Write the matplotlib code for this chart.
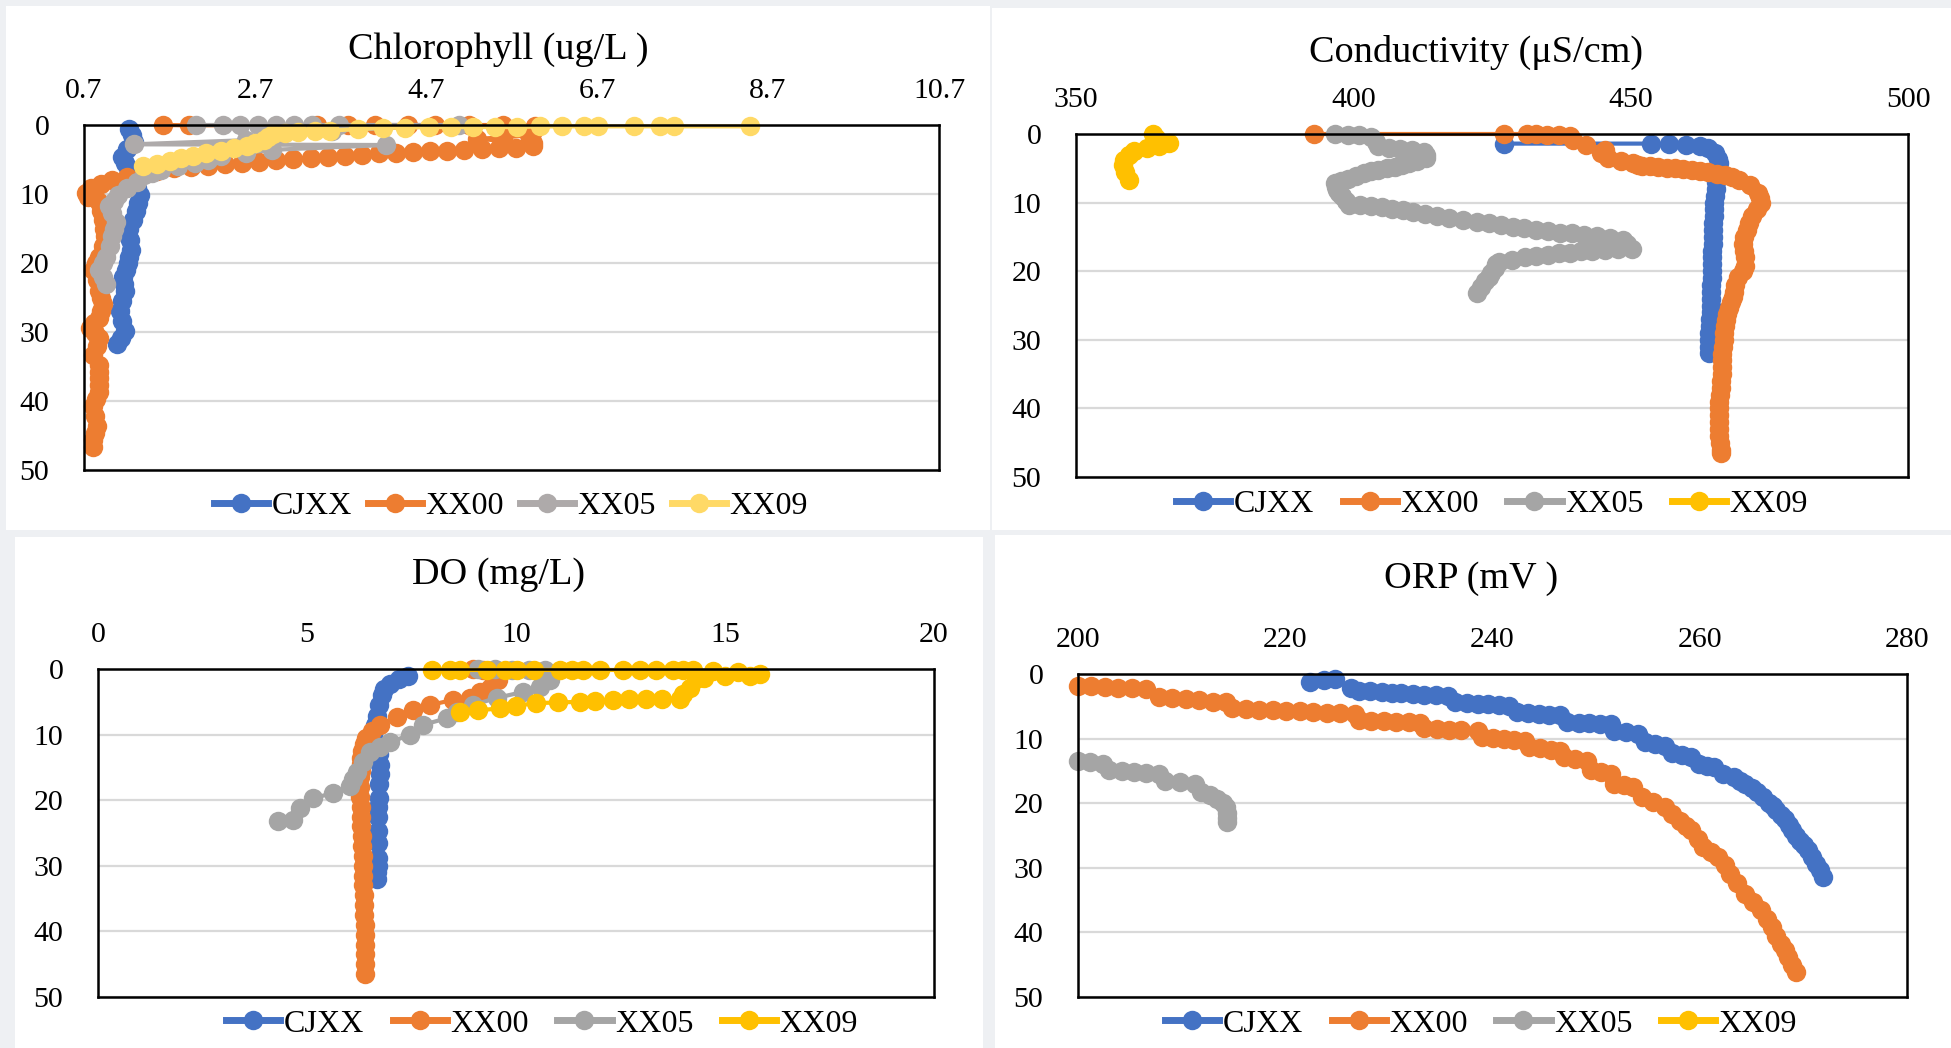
import matplotlib
matplotlib.use('Agg')
import matplotlib.pyplot as plt
from matplotlib.patches import Rectangle
from matplotlib.lines import Line2D

plt.rcParams['font.family'] = ['Liberation Serif', 'DejaVu Serif']

W, H = 1951, 1048
names = ['CJXX', 'XX00', 'XX05', 'XX09']
depth_ticks = [0, 10, 20, 30, 40, 50]

# Chlorophyll (ug/L)
chl_cjxx_d = [0.6, 1.4, 2.4, 3.5, 4.6, 5.5, 6.3, 7.3, 8.3, 9.2, 10.2, 11.3, 12.4, 13.7, 15.1, 16.6, 18.1, 19.1,
              20.0, 21.0, 22.0, 23.0, 24.0, 25.5, 26.9, 28.4, 29.9, 30.9, 31.8]
chl_cjxx_v = [1.23, 1.26, 1.28, 1.2, 1.15, 1.18, 1.21, 1.25, 1.28, 1.32, 1.36, 1.33, 1.31, 1.27, 1.23, 1.24, 1.25, 1.23,
              1.21, 1.19, 1.16, 1.17, 1.18, 1.15, 1.12, 1.15, 1.18, 1.13, 1.09]
chl_xx00_d = [0, 0.05, 0, 0, 0, 0, 0, 0, 0, 0.1,
              0.8, 1.5, 1.8, 2.0, 2.3, 2.6, 3.1, 3.3, 3.4, 3.5,
              3.6, 3.7, 3.8, 3.9, 4.0, 4.1, 4.3, 4.5, 4.6, 4.8,
              4.9, 5.1, 5.3, 5.5, 5.7, 5.9, 6.1, 6.3, 6.6, 7.0,
              7.6, 8.0, 8.5, 9.2, 9.8, 10.4, 11.2, 12.5, 13.7, 15.0,
              16.1, 17.6, 19.1, 20.0, 21.0, 22.5, 24.0, 25.0, 26.0, 27.0,
              27.9, 28.7, 29.4, 30.1, 30.8, 32.0, 33.3, 34.8, 35.8, 36.7,
              37.7, 38.7, 39.7, 40.7, 42.2, 43.6, 44.6, 45.6, 46.6]
chl_xx00_v = [1.62, 1.93, 3.42, 3.79, 4.1, 4.49, 4.8, 5.2, 5.6, 5.98,
              5.95, 5.9, 5.6, 5.3, 5.6, 5.95, 5.95, 5.75, 5.55, 5.35,
              5.15, 4.95, 4.75, 4.55, 4.35, 4.15, 3.95, 3.75, 3.55, 3.35,
              3.15, 2.95, 2.75, 2.55, 2.35, 2.15, 1.95, 1.75, 1.55, 1.4,
              1.2, 1.03, 0.9, 0.78, 0.72, 0.75, 0.88, 0.9, 0.92, 0.93,
              0.94, 0.92, 0.88, 0.84, 0.81, 0.85, 0.88, 0.9, 0.92, 0.9,
              0.88, 0.82, 0.77, 0.83, 0.88, 0.85, 0.81, 0.87, 0.88, 0.88,
              0.87, 0.87, 0.84, 0.81, 0.83, 0.85, 0.83, 0.8, 0.8]
chl_xx05_d = [0, 0, 0, 0, 0, 0, 0, 0, 0,
              0.8, 1.5, 2.2, 2.8, 2.9, 3.6, 4.0, 4.5, 5.0, 5.5, 6.0, 6.5, 6.9, 7.3,
              8.3, 9.2, 10.2, 11.0, 11.7, 12.8, 14.1, 15.0, 16.1, 17.5,
              19.1, 20.0, 21.0, 22.0, 23.0]
chl_xx05_v = [2.01, 2.32, 2.53, 2.74, 2.95, 3.16, 3.37, 3.68, 5.09,
              3.6, 3.0, 2.6, 1.28, 4.23, 2.9, 2.6, 2.3, 2.15, 2.0, 1.8, 1.6, 1.5, 1.4,
              1.32, 1.2, 1.1, 1.05, 0.99, 1.03, 1.07, 1.05, 1.03, 1.0,
              0.96, 0.92, 0.88, 0.92, 0.96]
chl_xx09_d = [0.2, 0.2, 0.2, 0.2, 0.2, 0.2, 0.2, 0.2, 0.3, 0.3,
              0.3, 0.3, 0.3, 0.4, 0.4, 0.6, 0.8, 0.9, 1.0, 1.15,
              1.3, 1.75, 2.2, 2.6, 3.0, 3.35, 3.7, 4.1, 4.5, 4.85,
              5.2, 5.6, 6.0]
chl_xx09_v = [8.49, 7.6, 7.44, 7.13, 6.71, 6.55, 6.29, 6.03, 5.77, 5.51,
              5.25, 4.99, 4.73, 4.46, 4.2, 3.9, 3.58, 3.4, 3.2, 3.05,
              2.91, 2.85, 2.8, 2.7, 2.61, 2.45, 2.3, 2.13, 1.97, 1.83,
              1.7, 1.55, 1.39]

# Conductivity (uS/cm)
cond_cjxx_d = [1.4, 1.4, 1.5, 1.6, 1.8, 2.0, 2.8, 3.6, 4.3, 5.0,
               6, 7, 8, 9, 10, 11, 12, 13, 14, 15,
               16, 17, 18, 19, 20, 21, 22, 23, 24, 25,
               26, 27, 28, 29, 30, 31, 31.9]
cond_cjxx_v = [427.1, 453.7, 457.0, 460.0, 462.5, 464.0, 465.2, 465.7, 465.9, 465.8,
               465.6, 465.4, 465.3, 465.2, 465.1, 465.0, 465.0, 464.9, 464.9, 464.8,
               464.8, 464.7, 464.7, 464.6, 464.6, 464.6, 464.5, 464.5, 464.5, 464.4,
               464.4, 464.3, 464.3, 464.2, 464.2, 464.1, 464.1]
cond_xx00_d = [0, 0, 0, 0, 0.1, 0.2, 0.3, 0.9, 1.6, 2.3,
               2.8, 3.5, 4.0, 4.3, 4.45, 4.6, 4.7, 4.8, 4.9, 5.0,
               5.15, 5.3, 5.45, 5.6, 5.8, 6.0, 6.3, 6.7,
               7.5, 8.6, 9.4, 10.1, 11.0, 12.0, 13.0, 14.0, 15.0, 16.0,
               17.0, 18.0, 19.3, 20.0, 20.8, 22.0, 23.0, 23.7, 24.5, 25.4,
               26.3, 27.1, 28.0, 29.0, 30.0, 31.0, 32.0, 33.0, 34.0, 35.0,
               36.0, 37.0, 38.0, 39.0, 40.0, 41.0, 42.0, 43.0, 44.0, 45.0,
               46.0, 46.5]
cond_xx00_v = [392.9, 427.1, 431.3, 433.0, 435.0, 437.0, 439.0, 439.6, 442.0, 445.4,
               444.7, 446.0, 448.3, 450.5, 451.3, 452.0, 453.5, 455.0, 456.5, 458.0,
               459.5, 461.0, 462.5, 464.0, 465.5, 467.0, 468.3, 469.5,
               471.5, 472.9, 473.3, 473.5, 472.8, 471.9, 471.4, 471.0, 470.4, 470.3,
               470.5, 470.6, 470.7, 470.2, 469.4, 468.9, 468.6, 468.4, 468.0, 467.7,
               467.4, 467.1, 467.0, 466.9, 466.8, 466.6, 466.5, 466.5, 466.4, 466.4,
               466.3, 466.2, 466.1, 466.0, 466.0, 465.9, 465.9, 465.9, 466.0, 466.1,
               466.2, 466.2]
cond_xx05_d = [0.0, 0.1, 0.2, 0.5, 1.2, 1.8, 2.0, 2.2, 2.4, 2.6,
               3.1, 3.5, 3.9, 4.2, 4.5, 4.8, 5.0, 5.2, 5.4, 5.7,
               6.1, 6.5, 6.9, 7.2, 7.7, 8.2, 8.6, 9.1, 9.7, 10.3,
               10.4, 10.5, 10.7, 10.9, 11.1, 11.3, 11.6, 11.9, 12.3, 12.5,
               12.8, 13.0, 13.3, 13.5, 13.7, 14.0, 14.2, 14.4, 14.5, 14.7,
               14.9, 15.2, 15.4, 16.0, 16.7, 16.8, 16.9, 17.0, 17.1, 17.3,
               17.4, 17.6, 17.8, 18.0, 18.3, 18.6, 19.0, 19.5, 20.3, 20.9,
               21.5, 22.3, 23.2]
cond_xx05_v = [396.7, 399.0, 401.0, 403.1, 404.0, 404.4, 406.5, 408.5, 410.6, 412.7,
               413.1, 413.1, 411.5, 410.0, 408.8, 407.6, 406.0, 404.5, 403.2, 401.9,
               400.4, 399.0, 397.8, 396.7, 396.8, 397.0, 397.5, 398.0, 398.6, 399.3,
               401.2, 403.1, 405.1, 407.0, 408.9, 410.8, 412.9, 415.0, 417.2, 419.7,
               422.3, 424.4, 426.6, 428.7, 430.8, 433.0, 435.1, 437.2, 439.4, 441.5,
               443.9, 446.2, 448.6, 449.4, 450.2, 447.8, 445.4, 443.0, 441.0, 439.0,
               437.1, 435.1, 433.0, 431.0, 428.6, 426.2, 425.8, 425.5, 424.9, 424.4,
               423.8, 423.1, 422.3]
cond_xx09_d = [0.0, 0.6, 1.3, 1.8, 2.0, 2.5, 3.0, 3.8, 4.5, 5.6, 6.7]
cond_xx09_v = [363.9, 364.5, 366.7, 365.0, 362.8, 360.5, 359.5, 358.6, 358.4, 358.8, 359.5]

# DO (mg/L)
do_cjxx_d = [1.0, 1.6, 2.3, 3.1, 4.0, 5.5, 7.1, 8.6, 10.1, 11.5,
             13.0, 14.6, 16.0, 17.5, 19.7, 21.0, 22.5, 24.7, 26.5, 28.8,
             30.0, 31.0, 32.0]
do_cjxx_v = [7.42, 7.2, 6.99, 6.85, 6.79, 6.72, 6.67, 6.62, 6.59, 6.65,
             6.72, 6.75, 6.74, 6.73, 6.72, 6.71, 6.71, 6.71, 6.71, 6.7,
             6.69, 6.68, 6.67]
do_xx00_d = [0.0, 0.2, 1.0, 1.7, 2.9, 3.5, 4.4, 4.7, 5.5, 6.3,
             7.3, 8.5, 9.5, 10.5, 11.5, 12.5, 13.5, 14.5, 15.5, 16.5,
             18.0, 19.5, 21.0, 22.5, 24.0, 25.5, 27.0, 28.5, 30.0, 31.5,
             33.0, 34.5, 36.0, 37.5, 39.0, 40.5, 42.0, 43.5, 45.0, 46.5]
do_xx00_v = [8.97, 9.2, 9.45, 9.57, 9.38, 9.14, 8.9, 8.5, 7.94, 7.54,
             7.15, 6.75, 6.55, 6.42, 6.36, 6.32, 6.3, 6.29, 6.28, 6.27,
             6.27, 6.27, 6.28, 6.29, 6.3, 6.31, 6.32, 6.33, 6.33, 6.34,
             6.35, 6.36, 6.37, 6.37, 6.38, 6.38, 6.39, 6.39, 6.39, 6.39]
do_xx05_d = [0.0, 0.0, 0.1, 0.1, 0.2, 1.7, 2.7, 3.5, 4.4, 5.5,
             6.5, 7.5, 8.5, 10.0, 11.2, 11.9, 12.6, 14.2, 15.7, 16.8,
             17.9, 18.9, 19.7, 21.2, 23.0, 23.1]
do_xx05_v = [9.1, 9.5, 9.9, 10.3, 10.7, 10.81, 10.57, 10.17, 9.54, 8.97,
             8.6, 8.35, 7.78, 7.46, 6.99, 6.75, 6.51, 6.35, 6.19, 6.1,
             6.03, 5.63, 5.15, 4.83, 4.67, 4.31]
do_xx09_d = [0.15] * 16 + [0.2, 0.3, 0.5, 0.8, 1.0, 1.1, 1.3, 1.6, 2.95, 3.8,
                           4.5, 4.5, 4.5, 4.6, 4.7, 4.85, 5.0, 5.1, 5.2, 5.6,
                           6.0, 6.3, 6.5]
do_xx09_v = [7.98, 8.42, 8.66, 9.3, 9.74, 10.02, 10.42, 11.05, 11.33, 11.61, 12.01, 12.57, 12.97, 13.36, 13.76, 14.0,
             14.24, 14.72, 15.3, 15.84, 15.6, 15.0, 14.5, 14.3, 14.16, 14.0,
             13.92, 13.5, 13.12, 12.7, 12.33, 11.9, 11.53, 11.0, 10.49, 10.0,
             9.62, 9.1, 8.66]

# ORP (mV)
orp_cjxx_v = [222.4, 223.7, 224.8, 226.3, 227.1, 228.2, 229.3, 230.3, 231.2, 232.3, 233.4, 234.5, 235.7,
              236.4, 237.5, 238.6, 239.6, 240.6, 241.6, 242.4, 243.4, 244.5, 245.5, 246.5, 247.2, 248.3,
              249.3, 250.4, 251.4, 251.7, 252.9, 254.0, 254.7, 255.7, 256.6, 257.3, 258.3, 259.2, 259.9,
              260.7, 261.4, 262.2, 263.3, 263.9, 264.4, 265.0, 265.5, 266.1, 266.7, 267.1, 267.4, 267.8,
              268.2, 268.6, 268.9, 269.3, 269.7, 270.1, 270.4, 270.8, 271.2, 271.6, 271.9]
orp_cjxx_d = [1.3, 1.0, 0.8, 2.1, 2.6, 2.7, 2.8, 2.9, 3.0, 3.1, 3.2, 3.3, 3.35,
              4.4, 4.5, 4.6, 4.7, 4.8, 4.9, 5.9, 6.0, 6.2, 6.3, 6.4, 7.5, 7.55,
              7.6, 7.7, 7.7, 8.8, 9.0, 9.3, 10.6, 10.8, 11.1, 12.3, 12.6, 12.9, 13.9,
              14.2, 14.4, 15.5, 16.0, 16.5, 17.0, 17.7, 18.3, 19.1, 19.9, 20.5, 21.1, 21.8,
              22.4, 23.3, 24.2, 25.0, 25.8, 26.5, 27.3, 28.3, 29.4, 30.4, 31.4]
orp_xx00_v = [200.0, 201.3, 202.6, 203.9, 205.2, 206.6, 207.8, 209.1, 210.4, 211.7, 213.0, 214.3,
              214.9, 216.2, 217.5, 218.8, 220.1, 221.4, 222.7, 224.0, 225.3, 226.7, 227.1, 228.3,
              229.5, 230.7, 231.9, 233.0, 233.4, 234.6, 235.8, 237.0, 238.6, 239.0, 240.0, 241.1,
              242.1, 243.1, 243.5, 244.6, 245.6, 246.5, 246.9, 248.0, 249.1, 249.5, 250.5, 251.4,
              251.7, 252.7, 253.6, 254.4, 255.5, 256.6, 257.3, 258.1, 258.7, 259.2, 259.8, 260.3,
              261.1, 261.8, 262.4, 262.9, 263.6, 264.4, 265.1, 265.9, 266.5, 267.0, 267.4, 267.8,
              268.2, 268.5, 268.9, 269.3]
orp_xx00_d = [1.8, 1.9, 2.0, 2.1, 2.2, 2.3, 3.5, 3.7, 3.9, 4.1, 4.3, 4.4,
              5.3, 5.4, 5.5, 5.6, 5.7, 5.8, 5.9, 6.0, 6.1, 6.2, 7.1, 7.2,
              7.3, 7.4, 7.5, 7.6, 8.4, 8.5, 8.6, 8.7, 8.8, 9.8, 9.9, 10.1,
              10.2, 10.3, 11.3, 11.5, 11.7, 11.9, 12.9, 13.1, 13.4, 14.9, 15.2, 15.5,
              17.0, 17.2, 17.5, 19.1, 19.8, 20.6, 21.6, 22.7, 23.5, 24.2, 25.5, 26.8,
              27.6, 28.4, 29.6, 30.9, 32.4, 34.0, 35.3, 36.6, 37.9, 39.2, 40.5, 41.8,
              42.8, 43.8, 45.0, 46.1]
orp_xx05_v = [200.0, 201.2, 202.4, 203.0, 204.2, 205.4, 206.6, 207.8, 208.4, 209.8,
              211.3, 211.9, 212.7, 213.4, 214.0, 214.3, 214.4, 214.4, 214.4]
orp_xx05_d = [13.4, 13.6, 13.9, 14.9, 15.0, 15.1, 15.3, 15.5, 16.5, 16.7,
              17.0, 18.3, 18.8, 19.3, 20.0, 20.6, 21.5, 22.3, 22.9]
orp_xx09_v = []
orp_xx09_d = []

excel = ['#4472C4', '#ED7D31', '#A5A5A5', '#FFC000']
light = ['#4472C4', '#ED7D31', '#AEAAAA', '#FFD966']

fig = plt.figure(figsize=(W / 100, H / 100), dpi=100, facecolor='#eef0f3')

# white chart areas behind each chart
for x0, y0, x1, y1 in [(6, 6, 990, 530), (992, 8, 1951, 530), (15, 537, 983, 1048), (995, 535, 1951, 1048)]:
    fig.patches.append(Rectangle((x0 / W, 1 - y1 / H), (x1 - x0) / W, (y1 - y0) / H,
                                 transform=fig.transFigure, facecolor='white', edgecolor='none', zorder=-10))


def panel(box, title, title_xy, xlim, xticks, xlabels, curves, colors, leg_xy, colspace=0.9):
    l, t, r, b = box
    ax = fig.add_axes([l / W, 1 - b / H, (r - l) / W, (b - t) / H])
    ax.set_zorder(2)
    ax.set_facecolor('white')
    for (v, d), c, n in zip(curves, colors, names):
        ax.plot(v, d, '-o', color=c, lw=3, ms=14, mew=0, label=n, clip_on=False)
    ax.set_xlim(*xlim)
    ax.set_ylim(50, 0)
    ax.xaxis.tick_top()
    ax.set_xticks(xticks)
    ax.set_xticklabels(xlabels)
    ax.set_yticks(depth_ticks)
    ax.tick_params(axis='x', length=0, pad=15, labelsize=21.5)
    ax.tick_params(axis='y', length=0, pad=25, labelsize=21.5)
    ax.grid(axis='y', color='#d9d9d9', lw=1.6)
    ax.set_axisbelow(True)
    for s in ax.spines.values():
        s.set_linewidth(1.8)
        s.set_color('black')
    fig.text(title_xy[0] / W, 1 - title_xy[1] / H, title, fontsize=27.5, ha='center', va='center')
    handles = [Line2D([], [], color=c, lw=5, marker='o', ms=14, mew=0) for c in colors]
    fig.legend(handles, names, loc='center', bbox_to_anchor=(leg_xy[0] / W, 1 - leg_xy[1] / H),
               ncol=4, frameon=False, fontsize=23, handlelength=1.7, handletextpad=0.1,
               columnspacing=colspace, borderpad=0)
    return ax


panel((84, 125, 939, 470), 'Chlorophyll (ug/L )', (498, 50), (0.7, 10.7),
      [0.7, 2.7, 4.7, 6.7, 8.7, 10.7], ['0.7', '2.7', '4.7', '6.7', '8.7', '10.7'],
      [(chl_cjxx_v, chl_cjxx_d), (chl_xx00_v, chl_xx00_d), (chl_xx05_v, chl_xx05_d), (chl_xx09_v, chl_xx09_d)],
      light, (511, 506), colspace=0.5)

panel((1076, 134, 1908, 477), 'Conductivity (μS/cm)', (1476, 52), (350, 500),
      [350, 400, 450, 500], ['350', '400', '450', '500'],
      [(cond_cjxx_v, cond_cjxx_d), (cond_xx00_v, cond_xx00_d), (cond_xx05_v, cond_xx05_d), (cond_xx09_v, cond_xx09_d)],
      excel, (1492, 504))

panel((98, 669, 934, 997), 'DO (mg/L)', (498, 575), (0, 20),
      [0, 5, 10, 15, 20], ['0', '5', '10', '15', '20'],
      [(do_cjxx_v, do_cjxx_d), (do_xx00_v, do_xx00_d), (do_xx05_v, do_xx05_d), (do_xx09_v, do_xx09_d)],
      excel, (542, 1024))

panel((1078, 674, 1907, 997), 'ORP (mV )', (1471, 579), (200, 280),
      [200, 220, 240, 260, 280], ['200', '220', '240', '260', '280'],
      [(orp_cjxx_v, orp_cjxx_d), (orp_xx00_v, orp_xx00_d), (orp_xx05_v, orp_xx05_d), (orp_xx09_v, orp_xx09_d)],
      excel, (1481, 1024))

fig.savefig('out.png', dpi=100, facecolor=fig.get_facecolor())
